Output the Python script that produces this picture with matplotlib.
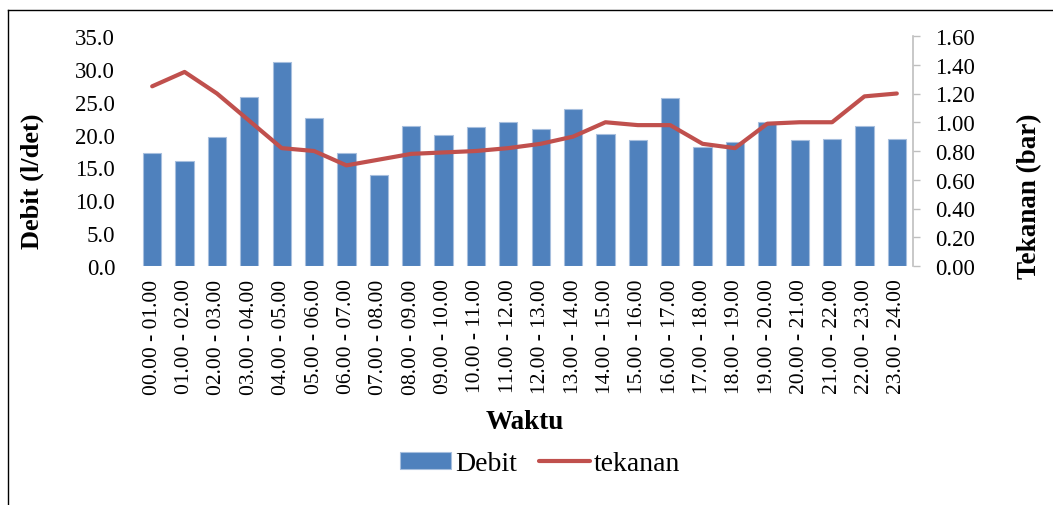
import matplotlib
matplotlib.use("Agg")
import matplotlib.pyplot as plt
from matplotlib.lines import Line2D
import numpy as np

plt.rcParams['font.family'] = ['Liberation Serif', 'DejaVu Serif']

categories = ["00.00 - 01.00", "01.00 - 02.00", "02.00 - 03.00", "03.00 - 04.00",
              "04.00 - 05.00", "05.00 - 06.00", "06.00 - 07.00", "07.00 - 08.00",
              "08.00 - 09.00", "09.00 - 10.00", "10.00 - 11.00", "11.00 - 12.00",
              "12.00 - 13.00", "13.00 - 14.00", "14.00 - 15.00", "15.00 - 16.00",
              "16.00 - 17.00", "17.00 - 18.00", "18.00 - 19.00", "19.00 - 20.00",
              "20.00 - 21.00", "21.00 - 22.00", "22.00 - 23.00", "23.00 - 24.00"]
debit = [17.2, 16.0, 19.6, 25.7, 31.0, 22.5, 17.2, 13.85, 21.35, 19.9, 21.2, 21.95,
         20.85, 23.9, 20.1, 19.1, 25.6, 18.1, 18.9, 21.9, 19.1, 19.3, 21.25, 19.3]
tekanan = [1.25, 1.35, 1.20, 1.01, 0.82, 0.80, 0.70, 0.74, 0.78, 0.79, 0.80, 0.82,
           0.85, 0.90, 1.00, 0.98, 0.98, 0.85, 0.82, 0.99, 1.00, 1.00, 1.18, 1.20]
left_ticks = [0, 5, 10, 15, 20, 25, 30, 35]
right_ticks = [0.0, 0.2, 0.4, 0.6, 0.8, 1.0, 1.2, 1.4, 1.6]

W, H = 1053, 506
fig = plt.figure(figsize=(W/100, H/100), dpi=100)
ax = fig.add_axes([136/W, 1-267/H, 777/W, 230/H])
x = np.arange(len(categories))

bars = ax.bar(x, debit, width=0.565, color='#4F81BD', edgecolor='#A7BFDE',
              linewidth=0.8, label='Debit', zorder=2)
ax.set_xlim(-0.5, len(categories)-0.5)
ax.set_ylim(0, 35)
ax.set_yticks(left_ticks)
ax.set_yticklabels([f"{v:.1f}" for v in left_ticks], fontsize=16.5)
ax.tick_params(axis='y', length=0, pad=15)
ax.set_xticks(x)
ax.set_xticklabels(categories, rotation=90, fontsize=15.5)
ax.tick_params(axis='x', length=0, pad=9)
for s in ['top', 'right', 'left', 'bottom']:
    ax.spines[s].set_visible(False)

ax2 = ax.twinx()
line, = ax2.plot(x, tekanan, color='#C0504D', linewidth=3, label='tekanan',
                 solid_capstyle='round', zorder=3)
ax2.set_ylim(0, 1.6)
ax2.set_yticks(right_ticks)
ax2.set_yticklabels([f"{v:.2f}" for v in right_ticks], fontsize=16.5)
ax2.tick_params(axis='y', length=5, width=1, color='#BFBFBF', pad=11)
for s in ['top', 'left', 'bottom']:
    ax2.spines[s].set_visible(False)
ax2.spines['right'].set_color('#BFBFBF')
ax2.spines['right'].set_linewidth(1.2)

fig.text(32/W, 1-181/H, 'Debit (l/det)', rotation=90, ha='center', va='center',
         fontsize=19, fontweight='bold')
fig.text(1030/W, 1-196/H, 'Tekanan (bar)', rotation=90, ha='center', va='center',
         fontsize=19.5, fontweight='bold')
fig.text(525/W, 1-423/H, 'Waktu', ha='center', va='center',
         fontsize=19.5, fontweight='bold')

fig.legend([bars, line], ['Debit', 'tekanan'], loc='center',
           bbox_to_anchor=(540/W, 1-465/H), ncol=2, frameon=False,
           fontsize=20, handlelength=1.85, handletextpad=0.12,
           columnspacing=0.8, handleheight=0.55)

# outer frame (partial, as in the reference crop)
fig.add_artist(Line2D([8/W, 8/W], [0, 1-11/H], transform=fig.transFigure,
                      color='black', linewidth=1))
fig.add_artist(Line2D([8/W, 1], [1-11/H, 1-11/H], transform=fig.transFigure,
                      color='black', linewidth=1))

fig.savefig('out.png', dpi=100)
